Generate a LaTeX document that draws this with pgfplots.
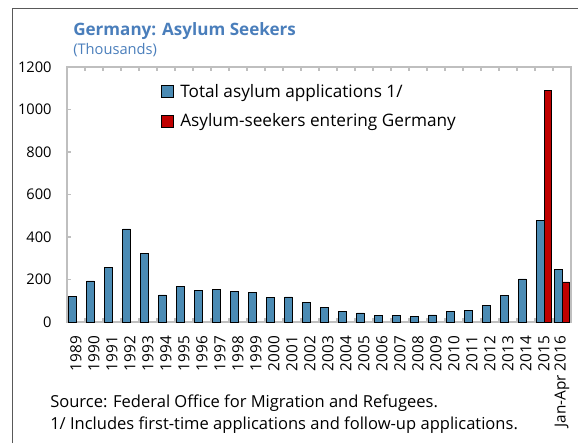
\documentclass[border=0pt]{standalone}
\usepackage{pgfplots}
\pgfplotsset{compat=1.18}
\usepackage{fontspec}
\setmainfont{Open Sans}
\definecolor{imfblue}{RGB}{75,139,180}
\definecolor{imfred}{RGB}{192,0,0}
\definecolor{titleblue}{RGB}{74,126,187}
\definecolor{framegray}{RGB}{191,191,191}
\begin{document}
\begin{tikzpicture}
\begin{scope}[x=0.75pt,y=0.75pt]
\path[use as bounding box] (0,0) rectangle (578,443);
% outer frame
\draw[line width=0.9pt, black!65] (12.5,0) -- (12.5,434.5) -- (578,434.5);
\node[anchor=base west, inner sep=0, text=titleblue, font=\fontsize{12.8}{14}\selectfont\bfseries] at (73,407) {Germany: Asylum Seekers};
\node[anchor=base west, inner sep=0, text=titleblue, font=\fontsize{11}{13}\selectfont] at (73,388) {(Thousands)};
\node[anchor=base west, inner sep=0, font=\fontsize{12.4}{14}\selectfont] at (50,36) {Source: Federal Office for Migration and Refugees.};
\node[anchor=base west, inner sep=0, font=\fontsize{12.4}{14}\selectfont] at (50,14) {1/ Includes first-time applications and follow-up applications.};
\end{scope}
\begin{axis}[
    at={(50.25pt,90.75pt)}, anchor=south west,
    scale only axis, width=378pt, height=191.25pt,
    ybar=0pt, bar width=5.4pt,
    xmin=-0.5, xmax=27.5, ymin=0, ymax=1200,
    ytick={0,200,...,1200},
    xtick={0,...,27},
    xticklabels={1989,1990,1991,1992,1993,1994,1995,1996,1997,1998,1999,2000,2001,2002,2003,2004,2005,2006,2007,2008,2009,2010,2011,2012,2013,2014,2015,Jan-Apr 2016},
    minor xtick={0.5,1.5,...,26.5},
    major x tick style={draw=none},
    minor tick length=3pt,
    major tick length=3pt,
    tick align=inside,
    tick style={framegray, line width=0.8pt},
    axis line style={framegray, line width=0.8pt},
    x axis line style={line width=1.5pt},
    xticklabel style={rotate=90, anchor=east, font=\fontsize{11.5}{13}\selectfont, xshift=-7pt},
    yticklabel style={font=\fontsize{11}{13}\selectfont, xshift=-8pt},
    /pgf/number format/assume math mode=true,
    /pgf/number format/1000 sep={},
    ytick pos=left,
    legend style={at={(0.186,0.945)}, anchor=north west, draw=none, fill=none,
        font=\fontsize{12.9}{14}\selectfont, row sep=7pt, inner sep=0pt,
        /tikz/every odd column/.append style={column sep=3pt}},
    legend cell align=left,
    legend image code/.code={\draw[#1, draw=black, line width=0.5pt] (0pt,-4.5pt) rectangle (9pt,4.5pt);},
]
\addplot[fill=imfblue, draw=black, line width=0.5pt] coordinates {
(0,121.3) (1,193.1) (2,256.1) (3,438.2) (4,322.6) (5,127.2) (6,166.9)
(7,149.2) (8,151.7) (9,143.4) (10,138.3) (11,117.6) (12,118.3) (13,91.5)
(14,67.8) (15,50.2) (16,42.9) (17,30.1) (18,30.3) (19,28.0) (20,33.0)
(21,48.6) (22,53.3) (23,77.7) (24,127.0) (25,202.8) (26,476.6) (27,246)
};
\addplot[fill=imfred, draw=black, line width=0.5pt] coordinates {
(26,1091) (27,189)
};
\legend{Total asylum applications 1/, Asylum-seekers entering Germany}
\end{axis}
\end{tikzpicture}
\end{document}
